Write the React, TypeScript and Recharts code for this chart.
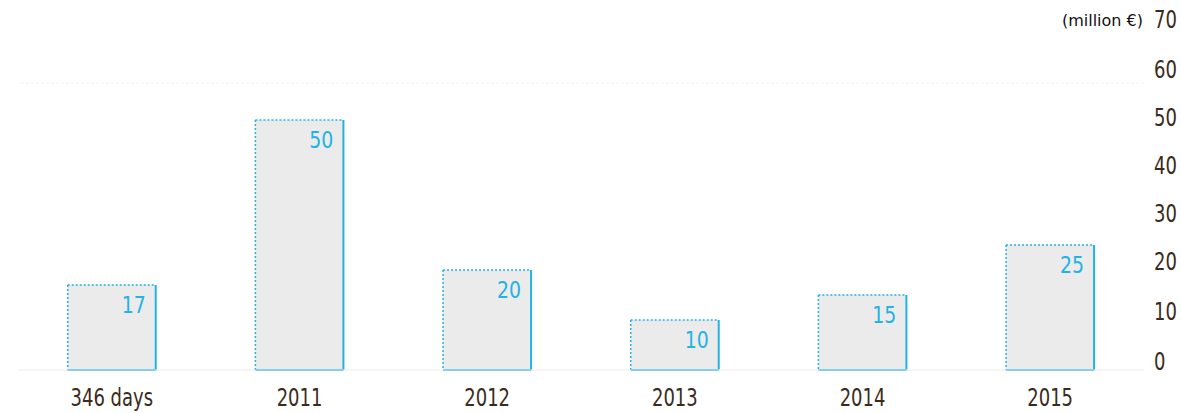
import React from 'react';
import { BarChart, Bar, XAxis, YAxis, LabelList, ReferenceLine } from 'recharts';

const categories = ['346 days', '2011', '2012', '2013', '2014', '2015'];
const values = [17, 50, 20, 10, 15, 25];
const yTicks = [0, 10, 20, 30, 40, 50, 60, 70];

const data = categories.map((name, i) => ({ name, value: values[i] }));

const CYAN = '#22b2e4';
const TEXT = '#3a2b20';
const FONT = '"DejaVu Sans Condensed", sans-serif';

const BarShape = (props: any) => {
  const { x, y, width, height } = props;
  return (
    <g>
      <rect x={x} y={y} width={width} height={height} fill="#ebebeb" />
      <line x1={x} y1={y} x2={x + width} y2={y} stroke={CYAN} strokeWidth={1.5} strokeDasharray="2 2" />
      <line x1={x} y1={y} x2={x} y2={y + height} stroke={CYAN} strokeWidth={1.5} strokeDasharray="2 2" />
      <line x1={x + width} y1={y} x2={x + width} y2={y + height} stroke={CYAN} strokeWidth={2} />
      <line x1={x} y1={y + height} x2={x + width} y2={y + height} stroke={CYAN} strokeWidth={2} />
    </g>
  );
};

const ValueLabel = (props: any) => {
  const { x, y, width, value } = props;
  return (
    <text
      transform={`translate(${x + width - 10},${y + 28}) scale(1,1.1)`}
      textAnchor="end"
      fill={CYAN}
      fontSize={21}
      fontFamily={FONT}
    >
      {value}
    </text>
  );
};

const XTick = ({ x, y, payload }: any) => (
  <text
    transform={`translate(${x},${y + 28}) scale(1,1.2)`}
    textAnchor="middle"
    fill={TEXT}
    fontSize={20}
    fontFamily={FONT}
  >
    {payload.value}
  </text>
);

const YTick = ({ x, y, payload }: any) => {
  // printed scale sits a little above the bar scale near the bottom
  const dy = Math.min(0, Math.max(-8, -12 + payload.value * 0.2));
  return (
    <text
      transform={`translate(${x + 2},${y + dy + 8}) scale(1,1.2)`}
      textAnchor="start"
      fill={TEXT}
      fontSize={20}
      fontFamily={FONT}
    >
      {payload.value}
    </text>
  );
};

export default function App() {
  return (
    <div style={{ position: 'absolute', left: 0, top: 0, width: 1181, height: 413, background: '#fff' }}>
      <BarChart
        width={1181}
        height={413}
        data={data}
        margin={{ top: 20, right: 0, left: 18, bottom: 0 }}
        barCategoryGap="26.5%"
      >
        <XAxis
          dataKey="name"
          height={43}
          axisLine={{ stroke: '#ececec' }}
          tickLine={false}
          tick={<XTick />}
          interval={0}
        />
        <YAxis
          orientation="right"
          width={37}
          domain={[0, 70]}
          ticks={yTicks}
          axisLine={false}
          tickLine={false}
          tick={<YTick />}
        />
        <ReferenceLine y={57.4} stroke="#f2f2f2" strokeDasharray="3 2" />
        <Bar dataKey="value" shape={<BarShape />} isAnimationActive={false}>
          <LabelList dataKey="value" content={<ValueLabel />} />
        </Bar>
      </BarChart>
      <div
        style={{
          position: 'absolute',
          right: 1181 - 1143,
          top: 11,
          fontSize: 16,
          lineHeight: '20px',
          fontFamily: '"DejaVu Sans", sans-serif',
          color: '#111',
        }}
      >
        (million €)
      </div>
    </div>
  );
}
